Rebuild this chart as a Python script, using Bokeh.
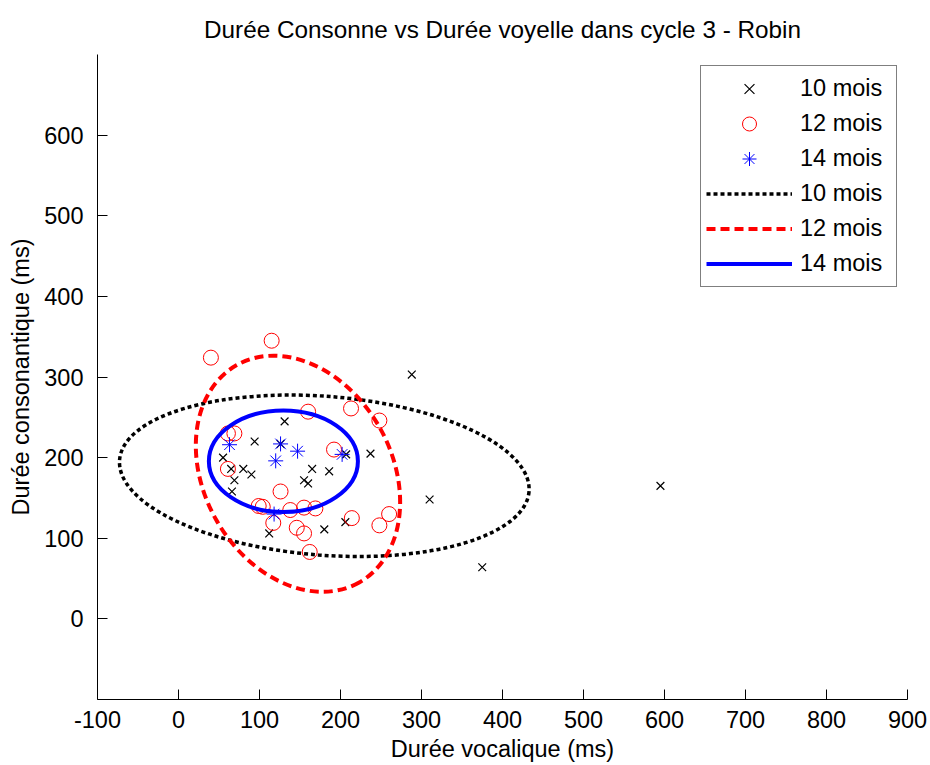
from bokeh.plotting import figure
from bokeh.models import FixedTicker, Range1d, Legend, LegendItem
from bokeh.embed import file_html
from bokeh.resources import INLINE

# ---- data ----
x10 = [288, 595, 375, 310, 237, 131, 94, 126, 55, 65, 80, 90, 69, 66, 165, 155, 160, 207, 186, 112, 180, 206]
y10 = [303, 165, 64, 148, 205, 245, 220, 217, 200, 186, 186, 179, 172, 158, 186, 172, 168, 204, 183, 106, 111, 120]

x12 = [40, 115, 160, 213, 248, 61, 69, 192, 61, 126, 99, 104, 117, 138, 155, 169, 146, 155, 162, 214, 248, 260]
y12 = [324, 345, 257, 261, 246, 230, 230, 210, 186, 158, 140, 139, 119, 135, 138, 137, 113, 106, 83, 125, 116, 130]

x14 = [63, 126, 147, 120, 202, 118]
y14 = [216, 217, 208, 196, 204, 130]

# ellipses (centre, full width, full height, rotation in radians)
ell_labels = ["10 mois", "12 mois", "14 mois"]
ell_cx = [180, 147.5, 129.5]
ell_cy = [177.5, 180, 195.5]
ell_w = [507, 308, 184]
ell_h = [197, 233, 126]
ell_angle = [-0.077, -1.058, 0.0]

x_ticks = [-100, 0, 100, 200, 300, 400, 500, 600, 700, 800, 900]
x_tick_labels = ["-100", "0", "100", "200", "300", "400", "500", "600", "700", "800", "900"]
y_ticks = [0, 100, 200, 300, 400, 500, 600]
y_tick_labels = ["0", "100", "200", "300", "400", "500", "600"]

title_text = "Durée Consonne vs Durée voyelle dans cycle 3 - Robin"
x_label = "Durée vocalique (ms)"
y_label = "Durée consonantique (ms)"

FONT = "Liberation Sans"
FS = "23.5px"

p = figure(width=930, height=765,
           x_range=Range1d(-100, 900), y_range=Range1d(-100, 700),
           output_backend="svg", toolbar_location=None,
           min_border_left=97, min_border_right=23,
           min_border_top=54, min_border_bottom=66,
           title=title_text)

p.title.text_font = FONT
p.title.text_font_size = "24.3px"
p.title.text_font_style = "normal"
p.title.align = "center"
p.title.text_color = "black"
p.title.standoff = 23

p.background_fill_color = "white"
p.border_fill_color = "white"
p.outline_line_color = None
p.grid.visible = False

for ax in (p.xaxis[0], p.yaxis[0]):
    ax.major_tick_in = 10
    ax.major_tick_out = 0
    ax.minor_tick_line_color = None
    ax.axis_line_color = "black"
    ax.major_tick_line_color = "black"
    ax.major_label_text_font = FONT
    ax.major_label_text_font_size = FS
    ax.major_label_text_color = "black"
    ax.axis_label_text_font = FONT
    ax.axis_label_text_font_size = FS
    ax.axis_label_text_font_style = "normal"
    ax.axis_label_text_color = "black"

p.xaxis.ticker = FixedTicker(ticks=x_ticks)
p.yaxis.ticker = FixedTicker(ticks=y_ticks)
p.xaxis.major_label_overrides = {t: s for t, s in zip(x_ticks, x_tick_labels)}
p.yaxis.major_label_overrides = {t: s for t, s in zip(y_ticks, y_tick_labels)}
p.xaxis.axis_label = x_label
p.yaxis.axis_label = y_label
p.xaxis.major_label_standoff = 11
p.yaxis.major_label_standoff = 14
p.xaxis.axis_label_standoff = 5
p.yaxis.axis_label_standoff = 7

# ---- scatter points ----
s10 = p.scatter(x10, y10, marker="x", size=11, line_color="black", line_width=1.2)
s12 = p.scatter(x12, y12, marker="circle", size=15, line_color="red", fill_color=None, line_width=1)
s14 = p.scatter(x14, y14, marker="asterisk", size=15, line_color="blue", line_width=1)

# ---- ellipses ----
ell_styles = [
    dict(line_color="black", line_dash="4 3", line_width=3.5),
    dict(line_color="red", line_dash="9 5", line_width=4),
    dict(line_color="blue", line_dash="solid", line_width=4),
]
legend_lines = []
nan = float("nan")
for i in range(3):
    p.ellipse(x=[ell_cx[i]], y=[ell_cy[i]], width=[ell_w[i]], height=[ell_h[i]],
              angle=[ell_angle[i]], fill_color=None, **ell_styles[i])
    # legend-only line (no visible data)
    legend_lines.append(p.line(x=[nan], y=[nan], **ell_styles[i]))

legend = Legend(items=[
    LegendItem(label="10 mois", renderers=[s10]),
    LegendItem(label="12 mois", renderers=[s12]),
    LegendItem(label="14 mois", renderers=[s14]),
    LegendItem(label=ell_labels[0], renderers=[legend_lines[0]]),
    LegendItem(label=ell_labels[1], renderers=[legend_lines[1]]),
    LegendItem(label=ell_labels[2], renderers=[legend_lines[2]]),
], location=(603, 412))
legend.label_text_font = FONT
legend.label_text_font_size = FS
legend.label_text_color = "black"
legend.padding = 5
legend.spacing = 0
legend.glyph_height = 35
legend.glyph_width = 86
legend.label_height = 35
legend.label_width = 91
legend.label_standoff = 8
legend.margin = 0
legend.border_line_color = "black"
legend.border_line_width = 1
legend.background_fill_color = "white"
legend.background_fill_alpha = 1
p.add_layout(legend)

open("out.html", "w").write(file_html(p, INLINE))
